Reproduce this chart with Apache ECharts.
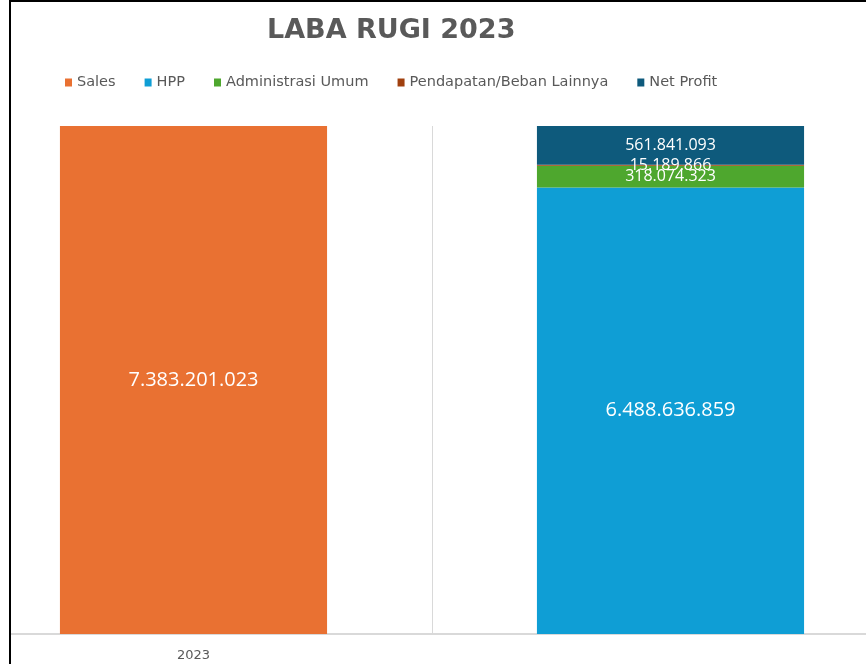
<!DOCTYPE html>
<html>
<head>
<meta charset="utf-8">
<script src="https://cdn.jsdelivr.net/npm/echarts@6/dist/echarts.min.js"></script>
<style>
  html, body { margin: 0; padding: 0; background: #fff; }
  #wrap { position: relative; width: 866px; height: 664px; overflow: hidden; }
  #chart { position: absolute; left: -45px; top: 0; width: 954px; height: 664px; }
  #mask { position: absolute; left: 0; top: 0; width: 9px; height: 664px; background: #fff; }
  #frame { position: absolute; left: 9px; top: 0; width: 900px; height: 700px;
           border-left: 2px solid #000; border-top: 2px solid #000; pointer-events: none; }
</style>
</head>
<body>
<div id="wrap">
  <div id="chart"></div>
  <div id="mask"></div>
  <div id="frame"></div>
</div>
<script>
// data
const categories = ['2023', '']
const sales = [7383201023, null]
const hpp = [null, 6488636859]
const adminUmum = [null, 318074323]
const pendapatanLain = [null, 15189866]
const netProfit = [null, 561841093]

const fmt = v => String(v).replace(/\B(?=(\d{3})+(?!\d))/g, '.')
const font = '"Open Sans", "Noto Sans", sans-serif'
const wide = '"DejaVu Sans", sans-serif'
const off = 45 // chart div starts 45px left of the page

const mk = (name, data, color, size) => ({
  name: name,
  type: 'bar',
  stack: 'total',
  data: data,
  barWidth: '56%',
  itemStyle: { color: color },
  label: {
    show: true,
    position: 'inside',
    color: '#fff',
    fontFamily: font,
    fontSize: size,
    formatter: p => fmt(p.value)
  }
})

const chart = echarts.init(document.getElementById('chart'))
chart.setOption({
  animation: false,
  title: {
    text: 'LABA RUGI 2023',
    left: 262 + off,
    top: 12,
    textStyle: { color: '#595959', fontFamily: wide, fontWeight: 'bold', fontSize: 27 }
  },
  legend: {
    left: 60 + off,
    top: 70,
    itemWidth: 7,
    itemHeight: 8,
    itemGap: 29,
    itemTextGap: 6,
    icon: 'rect',
    textStyle: { color: '#595959', fontFamily: wide, fontSize: 14.5 },
    data: ['Sales', 'HPP', 'Administrasi Umum', 'Pendapatan/Beban Lainnya', 'Net Profit']
  },
  grid: { left: 0, right: 0, top: 126, bottom: 30 },
  xAxis: {
    type: 'category',
    data: categories,
    axisLine: { lineStyle: { color: '#d9d9d9', width: 2 } },
    axisTick: { show: false },
    axisLabel: { color: '#595959', fontFamily: wide, fontSize: 13, margin: 15 },
    splitLine: { show: true, lineStyle: { color: '#d9d9d9' } }
  },
  yAxis: {
    type: 'value',
    min: 0,
    max: 7383742141,
    show: false
  },
  series: [
    mk('Sales', sales, '#e97132', 20),
    mk('HPP', hpp, '#0f9ed5', 20),
    mk('Administrasi Umum', adminUmum, '#4ea72e', 16),
    mk('Pendapatan/Beban Lainnya', pendapatanLain, '#a0400f', 16),
    mk('Net Profit', netProfit, '#0e5a7c', 16)
  ]
})
</script>
</body>
</html>
